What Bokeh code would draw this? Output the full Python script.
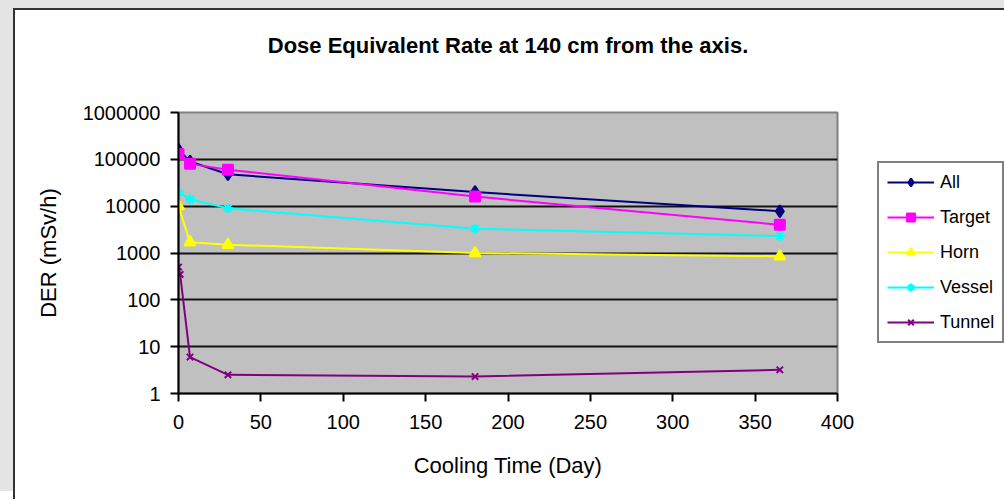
from bokeh.plotting import figure
from bokeh.models import Legend, LegendItem, FixedTicker, Title
from bokeh.embed import file_html
from bokeh.resources import INLINE

title_text = "Dose Equivalent Rate at 140 cm from the axis."
x_label = "Cooling Time (Day)"
y_label = "DER (mSv/h)"

days = [0, 7, 30, 180, 365]
tunnel_days = [0, 1, 7, 30, 180, 365]

all_der = [160000, 90000, 48000, 20000, 7800]
target_der = [130000, 80000, 60000, 16000, 4000]
horn_der = [10000, 1700, 1500, 1000, 850]
vessel_der = [20000, 14000, 9000, 3300, 2300]
tunnel_der = [500, 350, 6, 2.5, 2.3, 3.2]

x_ticks = [0, 50, 100, 150, 200, 250, 300, 350, 400]
y_ticks = [1, 10, 100, 1000, 10000, 100000, 1000000]
y_tick_labels = ["1", "10", "100", "1000", "10000", "100000", "1000000"]

FONT = "Liberation Sans"

p = figure(frame_width=659, frame_height=281, x_range=(0, 400), y_range=(1, 1000000),
           y_axis_type="log", output_backend="svg", toolbar_location=None,
           min_border_left=163, min_border_right=150, min_border_top=102,
           min_border_bottom=106)
p.styles = {"border-left": "2px solid #333333", "border-top": "2px solid #333333",
            "margin-left": "13px", "margin-top": "8px",
            "box-shadow": "-13px -8px 0 0 #e4e4e4"}

p.background_fill_color = "#C0C0C0"
p.border_fill_color = "white"
p.outline_line_color = "#808080"
p.outline_line_width = 2

p.title.text = title_text
p.title.align = "center"
p.title.text_font = FONT
p.title.text_font_size = "22px"
p.title.text_font_style = "bold"
p.title.text_color = "black"
p.title.standoff = 0

spacer = Title(text=" ", text_font_size="40px", standoff=9)
p.add_layout(spacer, "above")

p.xgrid.grid_line_color = None
p.ygrid.grid_line_color = "black"
p.ygrid.grid_line_width = 2
p.ygrid.grid_line_alpha = 0.9

p.xaxis.ticker = FixedTicker(ticks=x_ticks, minor_ticks=[])
p.yaxis.ticker = FixedTicker(ticks=y_ticks, minor_ticks=[])
p.yaxis.major_label_overrides = {t: l for t, l in zip(y_ticks, y_tick_labels)}

for ax in (p.xaxis[0], p.yaxis[0]):
    ax.axis_line_color = "black"
    ax.axis_line_width = 2
    ax.major_tick_line_color = "black"
    ax.major_tick_line_width = 2
    ax.major_tick_in = 0
    ax.major_tick_out = 8
    ax.minor_tick_line_color = None
    ax.major_label_text_font = FONT
    ax.major_label_text_font_size = "20px"
    ax.major_label_text_color = "black"
    ax.axis_label_text_font = FONT
    ax.axis_label_text_font_size = "22px"
    ax.axis_label_text_font_style = "normal"
    ax.axis_label_text_color = "black"

p.xaxis.axis_label = x_label
p.yaxis.axis_label = y_label
p.xaxis.major_label_standoff = 13
p.xaxis.axis_label_standoff = 21
p.yaxis.major_label_standoff = 10
p.yaxis.axis_label_standoff = 19

series = [
    ("All", days, all_der, "#000080", "diamond", 12),
    ("Target", days, target_der, "#FF00FF", "square", 10),
    ("Horn", days, horn_der, "#FFFF00", "triangle", 11),
    ("Vessel", days, vessel_der, "#00FFFF", "asterisk", 10),
    ("Tunnel", tunnel_days, tunnel_der, "#800080", "x", 9),
]

items = []
for name, xs, ys, color, marker, size in series:
    r1 = p.line(xs, ys, line_color=color, line_width=2)
    r2 = p.scatter(xs, ys, marker=marker, size=size, fill_color=color,
                   line_color=color, line_width=2)
    items.append(LegendItem(label=name, renderers=[r1, r2]))

legend = Legend(items=items, location=(40, 50))
legend.border_line_color = "black"
legend.border_line_width = 2
legend.background_fill_color = "white"
legend.label_text_font = FONT
legend.label_text_font_size = "18px"
legend.label_text_color = "black"
legend.glyph_width = 47
legend.glyph_height = 20
legend.label_height = 22
legend.spacing = 13
legend.padding = 8
legend.margin = 0
legend.label_standoff = 6
p.add_layout(legend, "right")

open("out.html", "w").write(file_html(p, INLINE))
